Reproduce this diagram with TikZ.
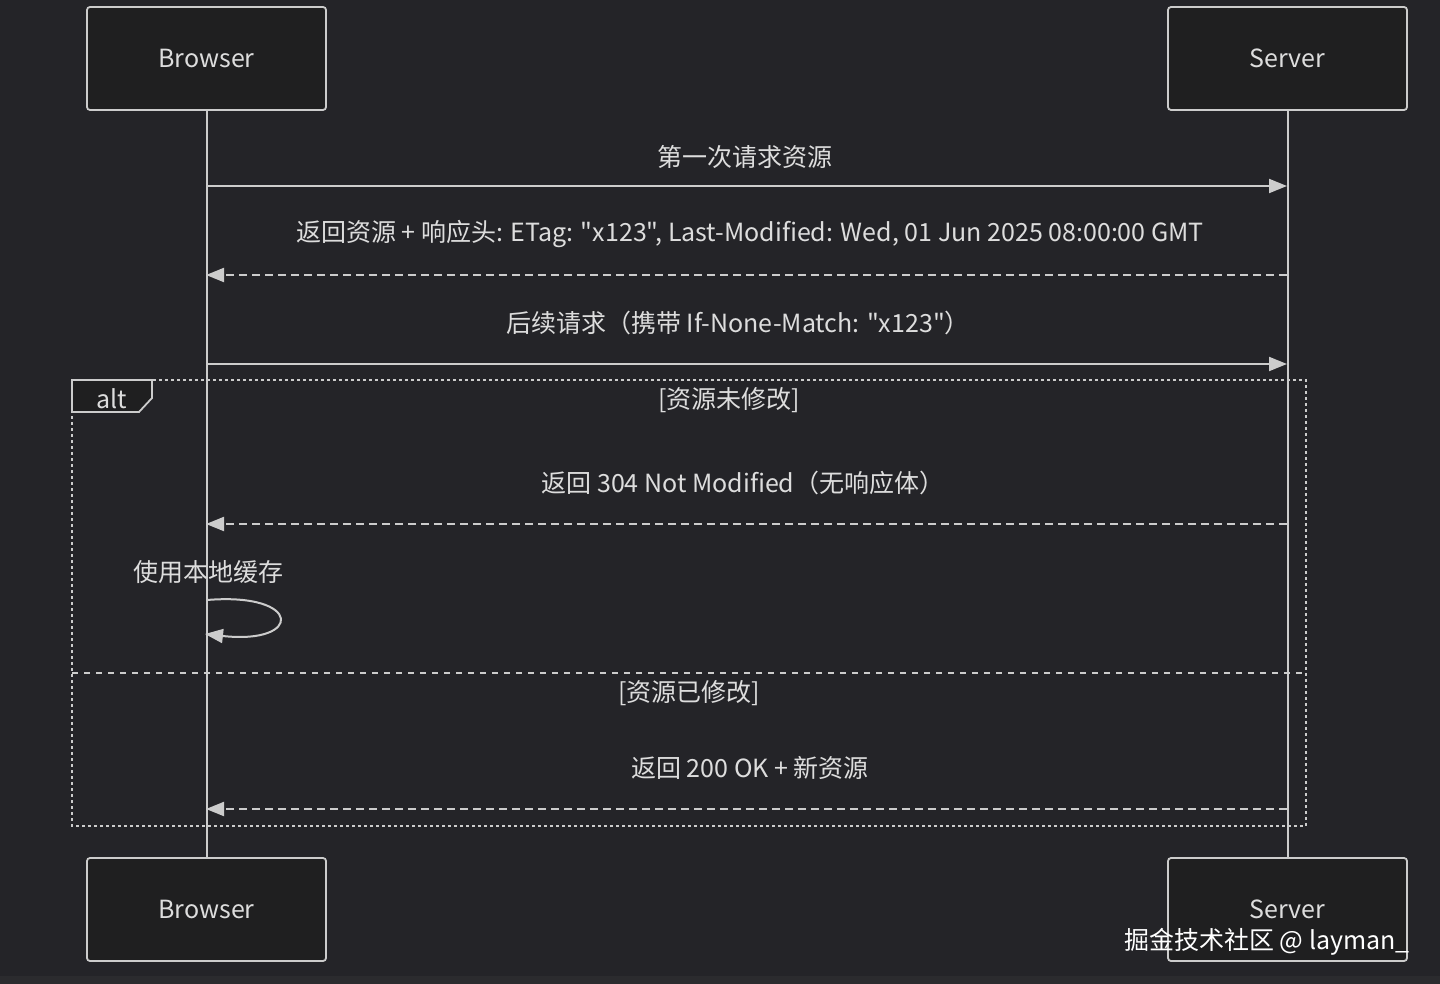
\documentclass[tikz,border=0pt]{standalone}
\usepackage{fontspec}
\newfontfamily\cjkfont{Noto Sans CJK SC}
\usepackage{tikz}
\usetikzlibrary{arrows.meta}
\definecolor{bgcol}{HTML}{242428}
\definecolor{stripcol}{HTML}{2B2B2E}
\definecolor{boxcol}{HTML}{1F1F20}
\definecolor{linecol}{HTML}{CCCCCC}
\definecolor{txtcol}{HTML}{DDDDDD}
\tikzstyle{Actor}=[rectangle, rounded corners=1.5pt, minimum width=119.5pt, minimum height=51.5pt, fill=boxcol, draw=linecol, line width=0.9pt, text=txtcol]
\tikzstyle{Msg}=[text=txtcol, inner sep=0pt]
\tikzstyle{Call}=[draw=linecol, line width=1pt, -{Triangle[length=9pt,width=7pt]}]
\tikzstyle{Reply}=[Call, dash pattern=on 4pt off 2.5pt]

\begin{document}
\begin{tikzpicture}[x=0.5pt, y=-0.5pt, font=\cjkfont\fontsize{12.5}{15}\selectfont]
    \fill[bgcol] (0,0) rectangle (1440,984);
    \fill[stripcol] (0,976) rectangle (1440,984);
    \useasboundingbox (0,0) rectangle (1440,984);

    \path
    (206.5,58.5) node[Actor] (btop) {Browser}
    (1287.5,58.5) node[Actor] (stop) {Server}
    (206.5,909.5) node[Actor] (bbot) {Browser}
    (1287.5,909.5) node[Actor] (sbot) {Server};

    \draw[linecol, line width=1pt] (btop) -- (bbot);
    \draw[linecol, line width=1pt] (stop) -- (sbot);

    % message rows on both lifelines
    \foreach \n/\y in {one/186, two/275, three/364, four/524, five/809}{
      \coordinate (b\n) at (206,\y);
      \coordinate (s\n) at (1287,\y);
    }

    % alt frame
    \draw[linecol, line width=1pt, dash pattern=on 1.5pt off 1.5pt] (72,380) rectangle (1306,826);
    \draw[linecol, line width=1pt, dash pattern=on 3pt off 3pt] (72,673) -- (1306,673);
    \draw[linecol, line width=0.9pt, fill=boxcol] (72,380) -- (152,380) -- (152,398) -- (139,412) -- (72,412) -- cycle;
    \path (112,399) node[Msg] (alt) {alt};

    \path (745,157) node[Msg] (t1) {第一次请求资源}
    (750,234) node[Msg] (t2) {返回资源 + 响应头: ETag: "x123", Last-Modified: Wed, 01 Jun 2025 08:00:00 GMT}
    (738,323) node[Msg] (t3) {后续请求（携带 If-None-Match: "x123"）}
    (729,400) node[Msg] (g1) {[资源未修改]}
    (743,483) node[Msg] (t4) {返回 304 Not Modified（无响应体）}
    (208,572) node[Msg] (t5) {使用本地缓存}
    (689,693) node[Msg] (g2) {[资源已修改]}
    (750,768) node[Msg] (t6) {返回 200 OK + 新资源};

    \draw[Call] (bone) -- (sone);
    \draw[Reply] (stwo) -- (btwo);
    \draw[Call] (bthree) -- (sthree);
    \draw[Reply] (sfour) -- (bfour);
    \draw[Reply] (sfive) -- (bfive);

    % self call
    \coordinate (loopin) at (207,600);
    \coordinate (loopout) at (205,634);
    \draw[Call] (loopin) .. controls (303,592) and (303,645) .. (loopout);

    \path (1267,942) node[Msg, text=white] (mark) {掘金技术社区 @ layman\_};
\end{tikzpicture}
\end{document}
